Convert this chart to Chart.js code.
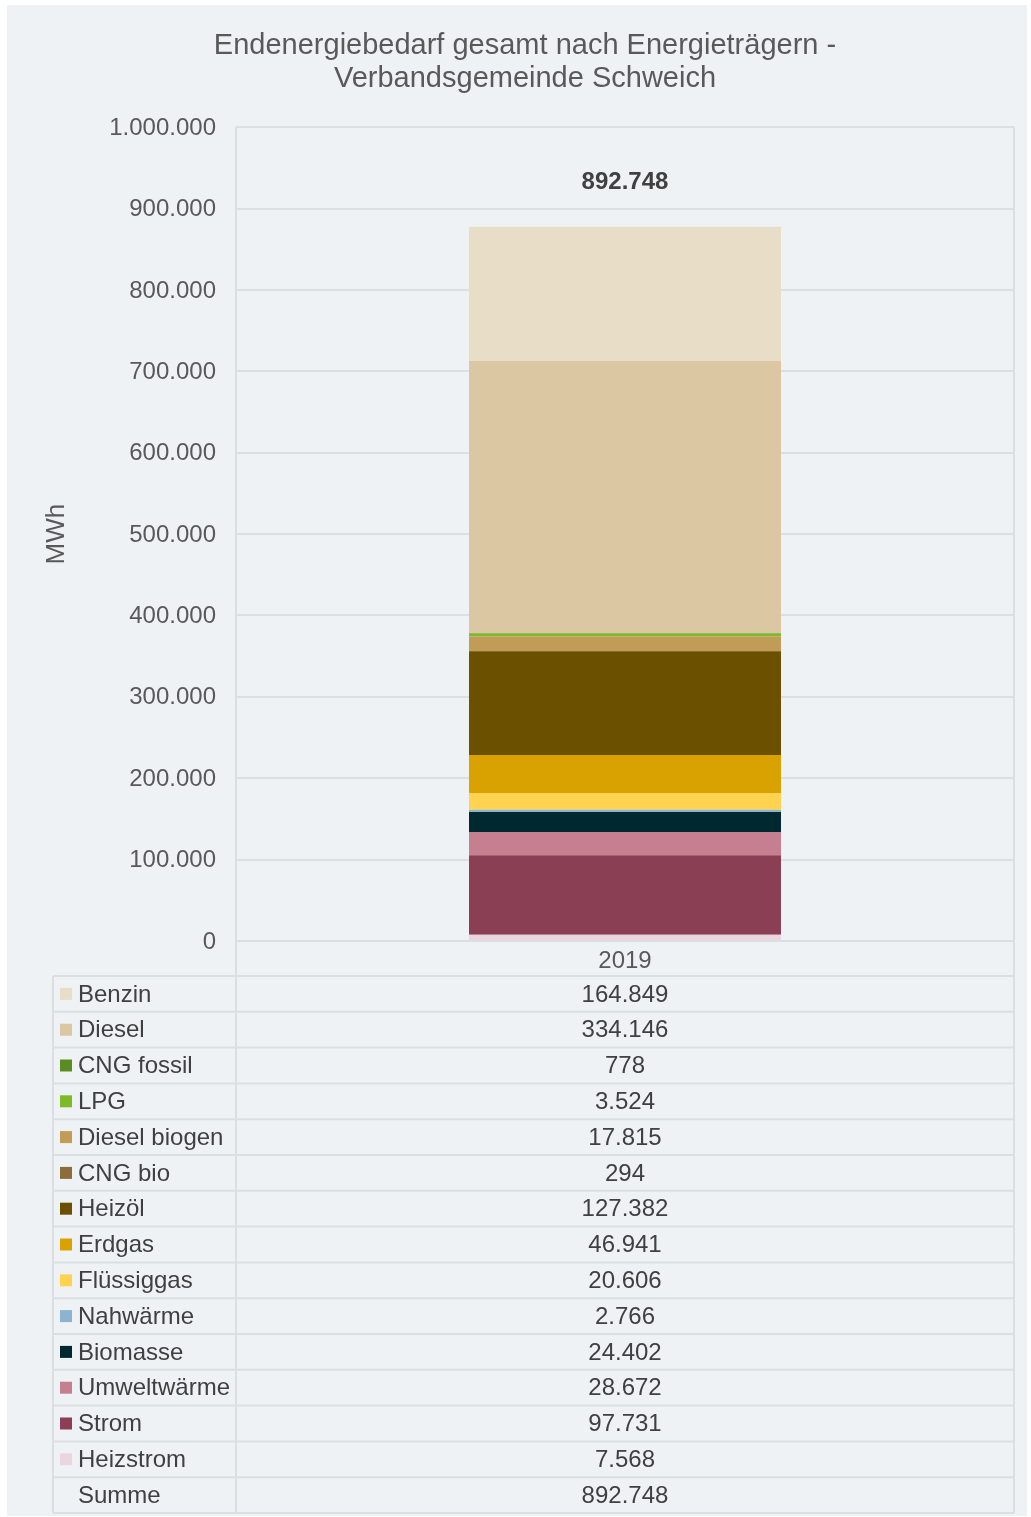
<!DOCTYPE html>
<html>
<head>
<meta charset="utf-8">
<script src="https://cdn.jsdelivr.net/npm/chart.js@4"></script>
<style>
  body { margin: 0; background: #ffffff; }
  #wrap { position: absolute; left: 7px; top: 5px; width: 1020px; height: 1511px; background: #eff2f5; }
</style>
</head>
<body>
<div id="wrap"><canvas id="chart" width="1020" height="1511"></canvas></div>
<script>
// Endenergiebedarf 2019, MWh (table order, top of stack first)
const years = ['2019'];
const carriers = ['Benzin', 'Diesel', 'CNG fossil', 'LPG', 'Diesel biogen', 'CNG bio', 'Heizöl',
                  'Erdgas', 'Flüssiggas', 'Nahwärme', 'Biomasse', 'Umweltwärme', 'Strom', 'Heizstrom'];
const values = [164849, 334146, 778, 3524, 17815, 294, 127382, 46941, 20606, 2766, 24402, 28672, 97731, 7568];
const colors = ['#e8dec7', '#dbc7a1', '#5b8c1f', '#7cbb27', '#c19c57', '#8b6d3a', '#6b5000',
                '#d9a200', '#ffd250', '#8cb4d2', '#002830', '#c67f91', '#8a3f55', '#ecd6dd'];
const summe = [892748];
const yTicks = { min: 0, max: 1000000, step: 100000 };

const fmt = v => String(v).replace(/\B(?=(\d{3})+(?!\d))/g, '.');
const FONT = 'Liberation Sans, Arial, sans-serif';
const TEXT = '#595959';

// stack bottom-up, so the last carrier goes first
const datasets = carriers.map((c, i) => ({
    type: 'bar',
    label: c,
    data: [values[i]],
    backgroundColor: colors[i],
    stack: 'e',
    barPercentage: 0.401,
    categoryPercentage: 1
})).reverse();

datasets.push({
    type: 'line',
    label: 'Summe',
    data: summe,
    stack: 'sum',
    showLine: false,
    pointRadius: 0,
    borderColor: 'transparent'
});

// data table + total label drawn under the plot
const tablePlugin = {
    id: 'table',
    afterDraw(chart) {
        const ctx = chart.ctx;
        const area = chart.chartArea;
        const x = chart.scales.x;
        const cx = x.getPixelForValue(0);
        const pt = chart.getDatasetMeta(datasets.length - 1).data[0];

        ctx.save();
        // total label
        ctx.font = 'bold 24px ' + FONT;
        ctx.fillStyle = '#404040';
        ctx.textAlign = 'center';
        ctx.textBaseline = 'middle';
        ctx.fillText(fmt(summe[0]), cx, pt.y - 32);

        const left = 46, mid = area.left, right = area.right;
        const top = area.bottom + 35;
        const rowH = 35.8;
        const rows = carriers.length + 1;
        ctx.strokeStyle = '#dcdfe2';
        ctx.lineWidth = 2;
        ctx.beginPath();
        for (let r = 0; r <= rows; r++) {
            const y = top + r * rowH;
            ctx.moveTo(left, y); ctx.lineTo(right, y);
        }
        ctx.moveTo(left, top); ctx.lineTo(left, top + rows * rowH);
        ctx.moveTo(mid, area.bottom); ctx.lineTo(mid, top + rows * rowH);
        ctx.moveTo(right, area.bottom); ctx.lineTo(right, top + rows * rowH);
        ctx.stroke();

        ctx.font = '24px ' + FONT;
        for (let r = 0; r < rows; r++) {
            const yc = top + r * rowH + rowH / 2;
            const name = r < carriers.length ? carriers[r] : 'Summe';
            const val = r < carriers.length ? values[r] : summe[0];
            if (r < carriers.length) {
                ctx.fillStyle = colors[r];
                ctx.fillRect(53, yc - 6, 12, 12);
            }
            ctx.fillStyle = '#404040';
            ctx.textAlign = 'left';
            ctx.fillText(name, 71, yc + 1);
            ctx.textAlign = 'center';
            ctx.fillText(fmt(val), cx, yc + 1);
        }
        ctx.restore();
    }
};

new Chart(document.getElementById('chart'), {
    data: { labels: years, datasets: datasets },
    options: {
        responsive: false,
        animation: false,
        layout: { padding: { left: 29, right: 13, top: 0, bottom: 540 } },
        plugins: {
            legend: { display: false },
            tooltip: { enabled: false },
            title: {
                display: true,
                text: ['Endenergiebedarf gesamt nach Energieträgern -', 'Verbandsgemeinde Schweich'],
                color: TEXT,
                font: { family: FONT, size: 29, weight: 'normal', lineHeight: 1.14 },
                padding: { top: 24, bottom: 32 }
            }
        },
        scales: {
            x: {
                stacked: true,
                offset: true,
                grid: { display: true, offset: true, color: '#dcdfe2', lineWidth: 2, drawTicks: false },
                border: { display: false },
                ticks: { color: TEXT, font: { family: FONT, size: 24 }, padding: 6 },
                afterFit(s) { s.height = 35; }
            },
            y: {
                stacked: true,
                min: yTicks.min,
                max: yTicks.max,
                grid: { color: '#dcdfe2', lineWidth: 2, drawTicks: false },
                border: { display: false },
                ticks: {
                    stepSize: yTicks.step,
                    color: TEXT,
                    padding: 20,
                    labelOffset: 1,
                    font: { family: FONT, size: 24 },
                    callback: v => fmt(v)
                },
                title: {
                    display: true,
                    text: 'MWh',
                    color: TEXT,
                    font: { family: FONT, size: 26 },
                    padding: { top: 5, bottom: 0 }
                },
                afterFit(s) { s.width = 200; }
            }
        }
    },
    plugins: [tablePlugin]
});
</script>
</body>
</html>
